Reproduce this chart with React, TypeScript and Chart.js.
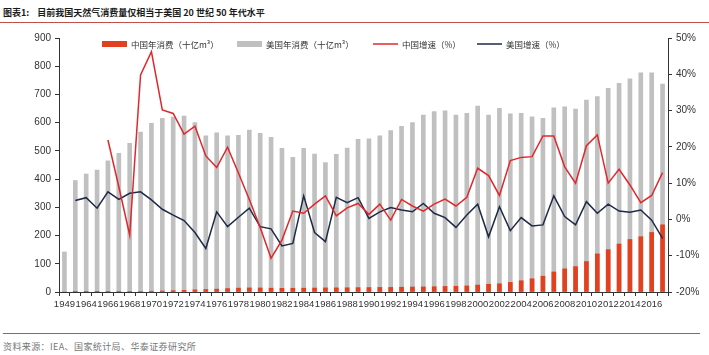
import React, { useEffect, useRef } from 'react';
import { Chart, registerables } from 'chart.js';

Chart.register(...registerables);

const years = [
  '1949', '1963', '1964', '1965', '1966', '1967', '1968', '1969', '1970', '1971',
  '1972', '1973', '1974', '1975', '1976', '1977', '1978', '1979', '1980', '1981',
  '1982', '1983', '1984', '1985', '1986', '1987', '1988', '1989', '1990', '1991',
  '1992', '1993', '1994', '1995', '1996', '1997', '1998', '1999', '2000', '2001',
  '2002', '2003', '2004', '2005', '2006', '2007', '2008', '2009', '2010', '2011',
  '2012', '2013', '2014', '2015', '2016', '2017',
];

const chinaConsumption = [
  0, 1.0, 1.1, 1.1, 1.3, 1.5, 1.4, 2.0, 2.9, 3.7,
  4.8, 6.0, 7.5, 8.9, 10.1, 12.1, 13.7, 14.5, 14.3, 13.5,
  13.0, 13.3, 13.5, 14.0, 14.5, 14.6, 15.0, 15.5, 15.8, 16.3,
  16.2, 17.0, 17.6, 18.0, 18.7, 19.6, 20.3, 21.5, 24.5, 27.4,
  29.2, 34, 40, 47, 56, 71, 82, 90, 108, 135,
  150, 170, 186, 196, 211, 238,
];

const usConsumption = [
  142, 395, 418, 432, 465, 491, 527, 567, 598, 615,
  620, 623, 600, 553, 564, 553, 555, 574, 562, 548,
  509, 477, 509, 489, 459, 488, 510, 541, 543, 553,
  572, 587, 600, 627, 639, 642, 627, 633, 659, 627,
  651, 631, 633, 621, 615, 653, 656, 648, 680, 692,
  722, 739, 755, 777, 777, 737,
];

const chinaGrowth = [
  null, null, null, null, 21.9, 9.0, -4.3, 39.8, 46.2, 30.2,
  29.2, 23.5, 25.7, 17.5, 14.3, 19.9, 12.8, 5.5, -2.2, -10.7,
  -5.7, 2.3, 1.7, 4.2, 6.5, 1.0, 3.2, 4.4, 1.4, 4.2,
  -0.2, 5.5, 3.7, 2.3, 4.2, 5.6, 3.7, 6.1, 14.1, 12.1,
  6.6, 16.2, 17.1, 17.3, 23.0, 23.0, 14.5, 10.0, 20.3, 23.3,
  10.0, 13.8, 9.5, 4.6, 6.6, 12.9,
];

const usGrowth = [
  null, 5.2, 6.0, 3.1, 7.6, 5.5, 7.2, 7.6, 5.4, 2.8,
  1.2, -0.3, -3.6, -8.0, 2.1, -2.0, 0.6, 3.1, -2.0, -2.6,
  -7.3, -6.6, 6.5, -3.6, -6.1, 6.1, 4.6, 6.0, 0.3, 2.1,
  3.3, 2.6, 2.1, 4.4, 1.7, 0.5, -2.2, 1.2, 4.2, -4.8,
  3.5, -3.1, 0.5, -1.8, -1.5, 6.5, 0.8, -1.5, 4.9, 1.7,
  4.2, 2.3, 2.0, 2.6, -0.2, -5.2,
];

const seriesLabels = ['中国年消费（十亿m³）', '美国年消费（十亿m³）', '中国增速（%）', '美国增速（%）'];
const titleLabel = '图表1:';
const titleText = '目前我国天然气消费量仅相当于美国 20 世纪 50 年代水平';
const sourceText = '资料来源：IEA、国家统计局、华泰证券研究所';

const LATIN = '"Liberation Sans", Arial, "Noto Sans CJK SC", sans-serif';
const CJK = '"Noto Sans CJK SC", "Liberation Sans", sans-serif';
const AXIS = '#333333';

const legendPlugin = {
  id: 'customLegend',
  afterDraw(chart: any) {
    const { ctx, chartArea } = chart;
    const offsets = [43, 178, 314, 418];
    const y = chartArea.top + 6;
    ctx.save();
    ctx.font = `8.5px ${CJK}`;
    ctx.textBaseline = 'middle';
    ctx.textAlign = 'left';
    chart.data.datasets.forEach((ds: any, i: number) => {
      const x = chartArea.left + offsets[i];
      if (ds.type === 'bar') {
        ctx.fillStyle = ds.backgroundColor;
        ctx.fillRect(x, y - 3, 25, 6);
      } else {
        ctx.strokeStyle = ds.borderColor;
        ctx.lineWidth = 1.5;
        ctx.beginPath();
        ctx.moveTo(x, y);
        ctx.lineTo(x + 25, y);
        ctx.stroke();
      }
      ctx.fillStyle = '#333333';
      ctx.fillText(ds.label, x + 29, y + 0.5);
    });
    ctx.restore();
  },
};

export default function App() {
  const canvasRef = useRef<HTMLCanvasElement | null>(null);

  useEffect(() => {
    if (!canvasRef.current) return;
    const chart = new Chart(canvasRef.current, {
      type: 'bar',
      data: {
        labels: years,
        datasets: [
          {
            type: 'bar',
            label: seriesLabels[0],
            data: chinaConsumption,
            backgroundColor: '#e2401f',
            yAxisID: 'y',
            grouped: false,
            barThickness: 4,
            order: 1,
          } as any,
          {
            type: 'bar',
            label: seriesLabels[1],
            data: usConsumption,
            backgroundColor: '#c0c0c0',
            yAxisID: 'y',
            grouped: false,
            barThickness: 4,
            order: 2,
          } as any,
          {
            type: 'line',
            label: seriesLabels[2],
            data: chinaGrowth,
            borderColor: '#e0282c',
            backgroundColor: '#e0282c',
            borderWidth: 1.5,
            pointRadius: 0,
            tension: 0,
            yAxisID: 'y1',
            order: 0,
          } as any,
          {
            type: 'line',
            label: seriesLabels[3],
            data: usGrowth,
            borderColor: '#1f2a48',
            backgroundColor: '#1f2a48',
            borderWidth: 1.5,
            pointRadius: 0,
            tension: 0,
            yAxisID: 'y1',
            order: 0,
          } as any,
        ],
      },
      options: {
        animation: false,
        responsive: false,
        layout: { padding: { top: 10, left: 0, right: 0, bottom: 0 } },
        plugins: {
          legend: { display: false },
          tooltip: { enabled: false },
        },
        scales: {
          x: {
            type: 'category',
            offset: true,
            grid: {
              display: true,
              drawOnChartArea: false,
              drawTicks: true,
              tickLength: 4,
              color: AXIS,
              offset: true,
            },
            border: { display: true, color: AXIS, width: 1 },
            ticks: {
              autoSkip: false,
              maxRotation: 0,
              minRotation: 0,
              padding: 3,
              color: AXIS,
              font: { size: 9.5, family: LATIN },
              callback: (_v: any, i: number) => (i % 2 === 0 ? years[i] : ''),
            },
            afterFit: (s: any) => {
              s.height = 26;
            },
          },
          y: {
            position: 'left',
            min: 0,
            max: 900,
            grid: { drawOnChartArea: false, tickLength: 4, color: AXIS },
            border: { display: true, color: AXIS, width: 1 },
            ticks: {
              stepSize: 100,
              padding: 4,
              color: AXIS,
              font: { size: 10, family: LATIN },
            },
            afterFit: (s: any) => {
              s.width = 59;
            },
          },
          y1: {
            position: 'right',
            min: -20,
            max: 50,
            grid: { drawOnChartArea: false, tickLength: 4, color: AXIS },
            border: { display: true, color: AXIS, width: 1 },
            ticks: {
              stepSize: 10,
              padding: 4,
              color: AXIS,
              font: { size: 10, family: LATIN },
              callback: (v: any) => `${v}%`,
            },
            afterFit: (s: any) => {
              s.width = 41;
            },
          },
        },
      } as any,
      plugins: [legendPlugin],
    });
    return () => chart.destroy();
  }, []);

  return (
    <div
      style={{
        position: 'fixed',
        left: 0,
        top: 0,
        width: 709,
        height: 355,
        background: '#ffffff',
        overflow: 'hidden',
      }}
    >
      <div
        style={{
          position: 'absolute',
          left: 3,
          top: 7,
          fontFamily: CJK,
          fontSize: 9,
          lineHeight: '12px',
          fontWeight: 700,
          color: '#1a1a1a',
          whiteSpace: 'nowrap',
        }}
      >
        <span>{titleLabel}</span>
        <span style={{ marginLeft: 8 }}>{titleText}</span>
      </div>
      <div
        style={{
          position: 'absolute',
          left: 0,
          top: 22,
          width: 709,
          height: 1,
          background: '#c0504d',
        }}
      />
      <canvas
        ref={canvasRef}
        width={709}
        height={290}
        style={{ position: 'absolute', left: 0, top: 28, width: 709, height: 290 }}
      />
      <div
        style={{
          position: 'absolute',
          left: 3,
          top: 333,
          width: 697,
          height: 1,
          background: '#c0504d',
        }}
      />
      <div
        style={{
          position: 'absolute',
          left: 3,
          top: 341,
          fontFamily: CJK,
          fontSize: 9,
          lineHeight: '12px',
          color: '#777777',
          whiteSpace: 'nowrap',
          letterSpacing: 0.4,
        }}
      >
        {sourceText}
      </div>
    </div>
  );
}
